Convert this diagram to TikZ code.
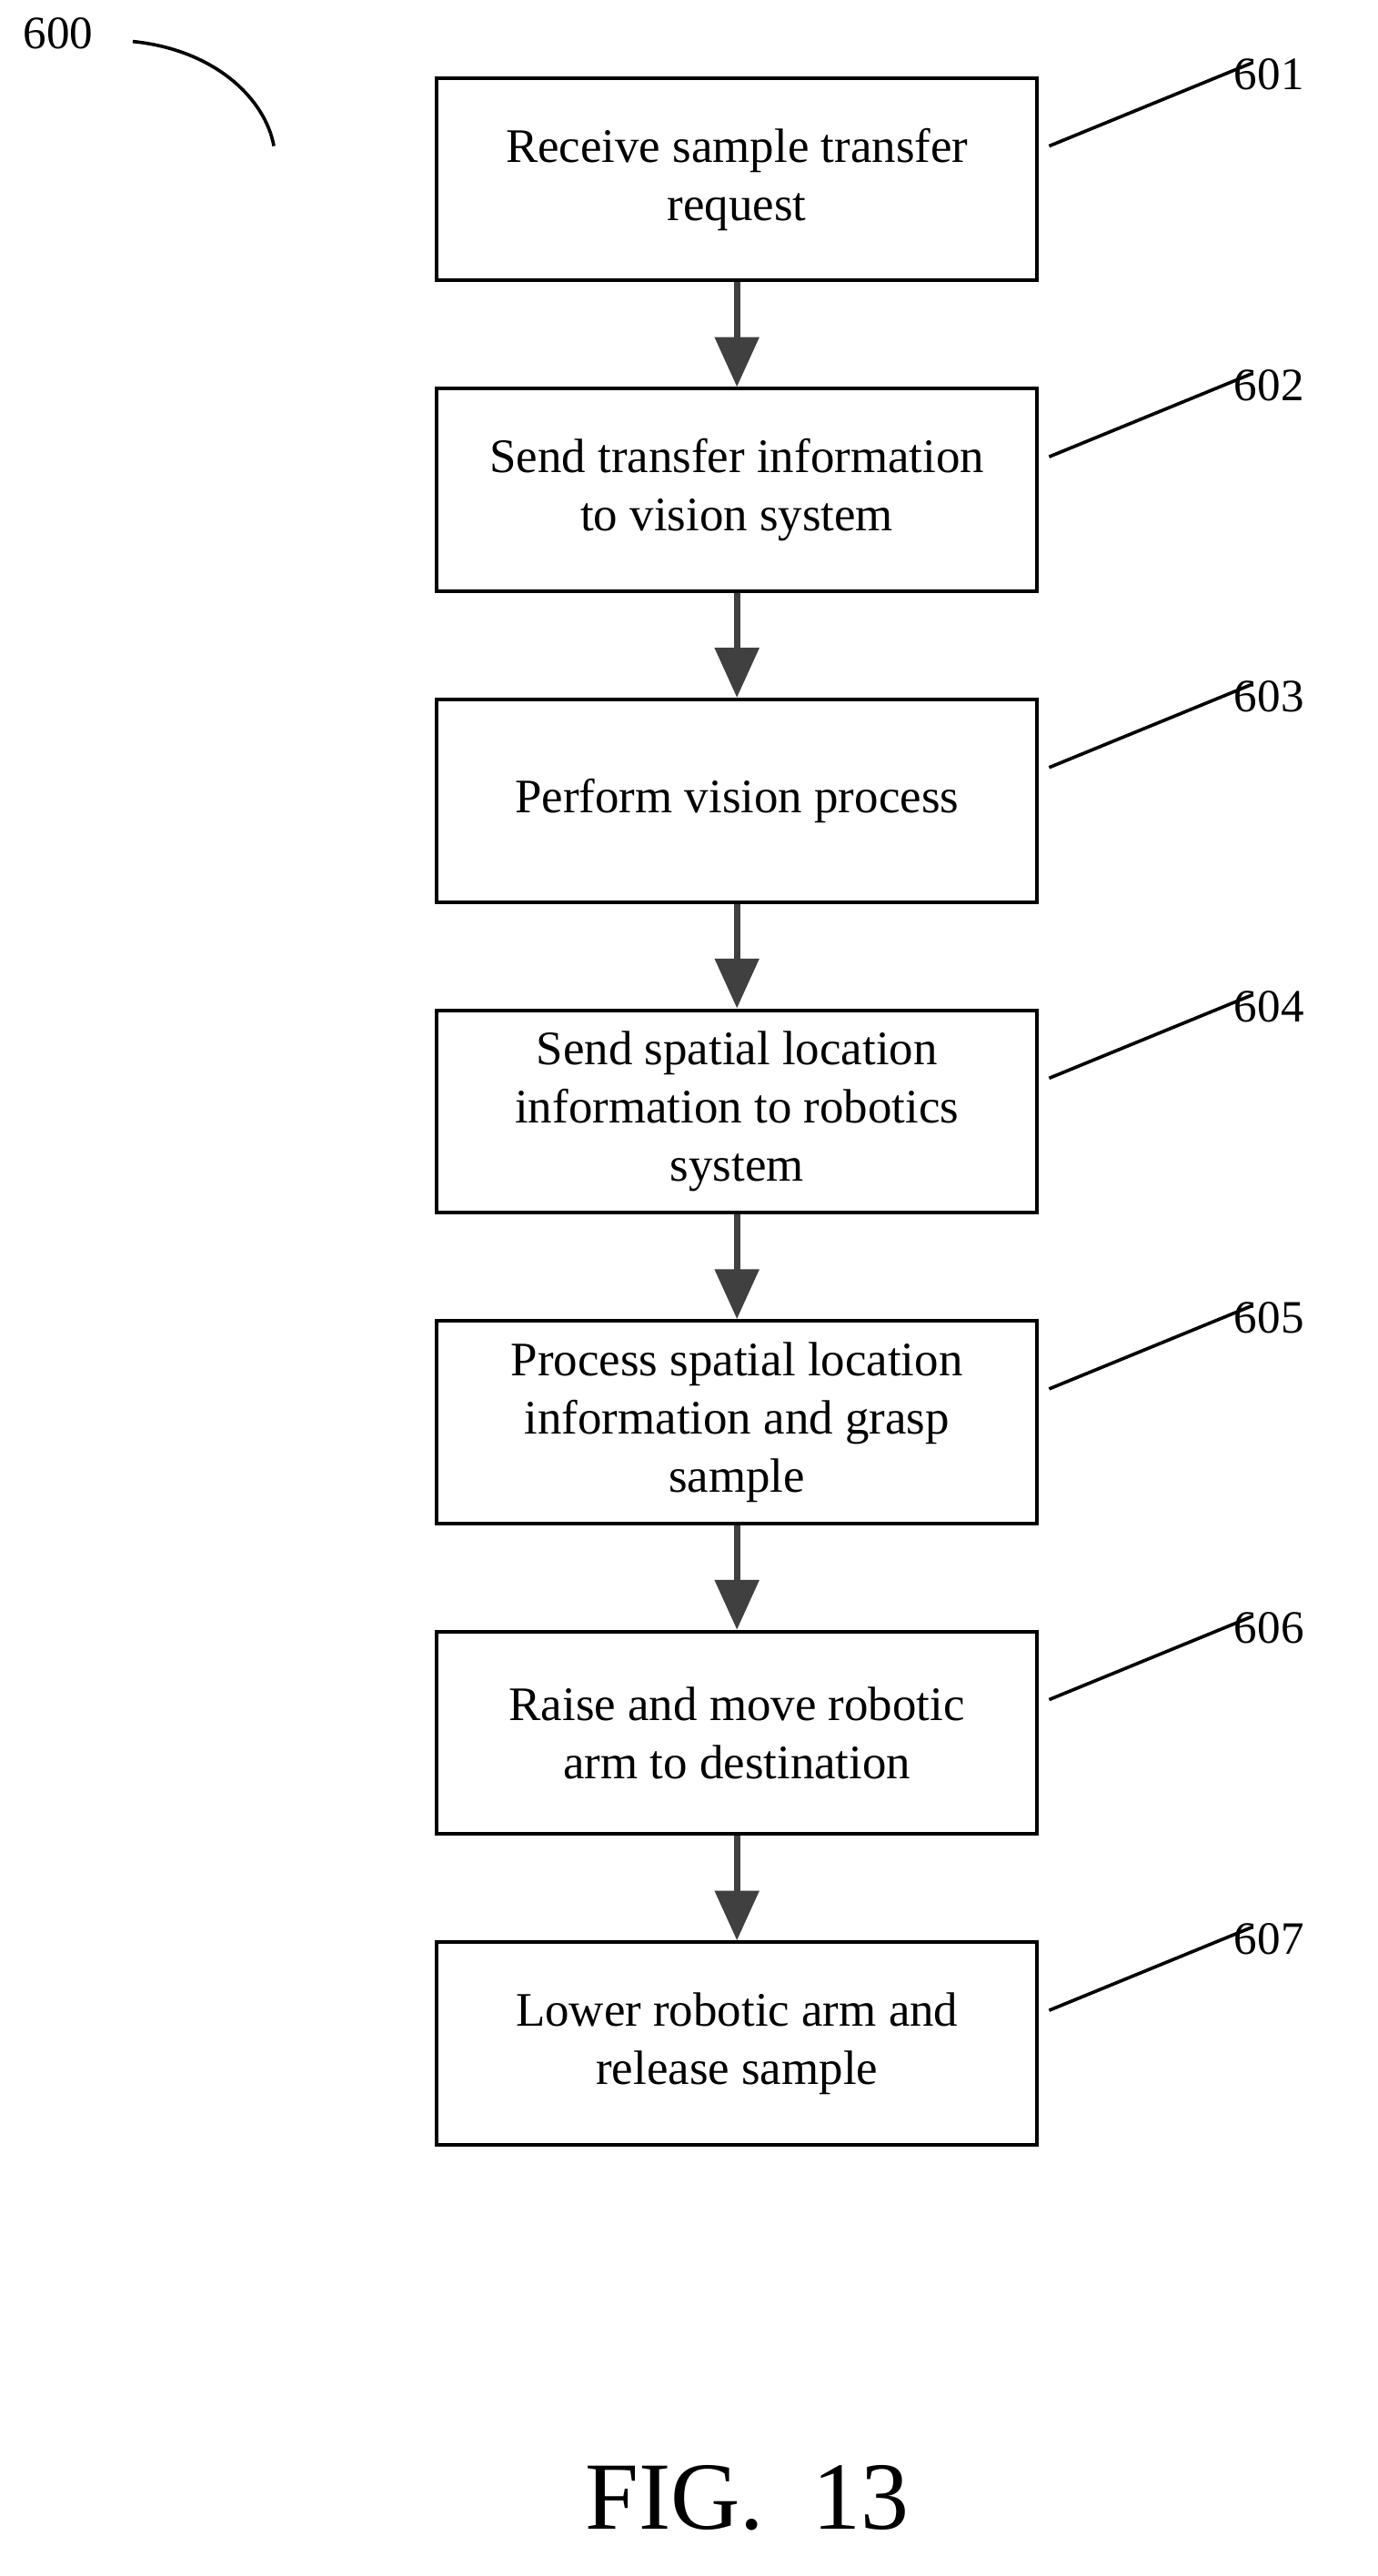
\documentclass[tikz,border=0pt]{standalone}
\usepackage{fontspec}
\setmainfont{Liberation Serif}
\usetikzlibrary{positioning,arrows.meta}
\tikzset{
  stepbox/.style={draw, line width=2.2pt, minimum width=362pt, minimum height=122pt,
    align=center, font=\fontsize{29}{35}\selectfont, inner sep=3pt},
  flow/.style={line width=4pt, draw=black!75, -{Triangle[length=30pt,width=26pt]}},
  lead/.style={line width=2pt},
  num/.style={font=\fontsize{28}{32}\selectfont}
}
\begin{document}
\begin{tikzpicture}[x=1pt,y=-1pt, node distance=63pt]
  \useasboundingbox (0,0) rectangle (830,1552);
  % steps
  \node[stepbox] (s1) at (444,108) {Receive sample transfer\\request};
  \node[stepbox, below=of s1] (s2) {Send transfer information\\to vision system};
  \node[stepbox, below=of s2] (s3) {Perform vision process};
  \node[stepbox, below=of s3] (s4) {Send spatial location\\information to robotics\\system};
  \node[stepbox, below=of s4] (s5) {Process spatial location\\information and grasp\\sample};
  \node[stepbox, below=of s5] (s6) {Raise and move robotic\\arm to destination};
  \node[stepbox, below=of s6] (s7) {Lower robotic arm and\\release sample};
  % arrows and reference numerals
  \foreach \a/\b in {s1/s2,s2/s3,s3/s4,s4/s5,s5/s6,s6/s7}
    \draw[flow] (\a.south) -- (\b.north);
  \foreach \s/\n in {s1/601,s2/602,s3/603,s4/604,s5/605,s6/606,s7/607} {
    \coordinate (\s-tip) at ([xshift=128pt,yshift=70pt]\s.east);
    \draw[lead] ([xshift=6pt,yshift=20pt]\s.east) -- (\s-tip);
    \node[num, anchor=west] (\s-num) at ([xshift=-14pt,yshift=-7pt]\s-tip) {\n};
  }
  % figure label
  \node[num] (lbl) at (35,20) {600};
  \coordinate (arcend) at (165,88);
  \draw[lead] (80,25) .. controls (130,30) and (160,60) .. (arcend);
  \node[font=\fontsize{58}{64}\selectfont] (fig) at (450,1505) {FIG.\ \ 13};
\end{tikzpicture}
\end{document}
